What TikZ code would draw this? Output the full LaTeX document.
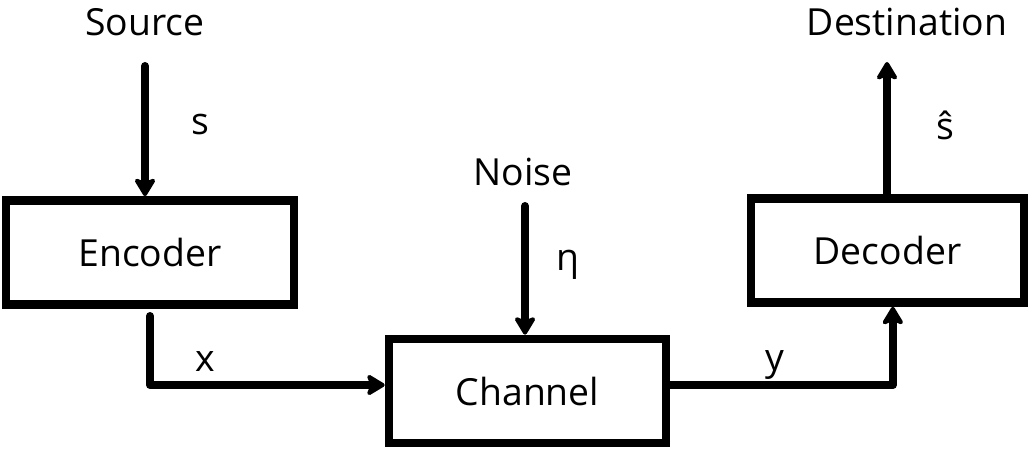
\documentclass[tikz,border=0pt]{standalone}
\usepackage{fontspec}
\setmainfont{Open Sans}
\usetikzlibrary{arrows.meta}

\tikzset{every picture/.style={line width=0.75pt}}
\tikzset{
  blockbox/.style={draw, line width=6.5pt, minimum width=#1, minimum height=78pt, inner sep=0pt, font=\fontsize{28}{32}\selectfont},
  flow/.style={line width=6pt, line cap=round, line join=round, -{Stealth[length=16pt,width=19pt,inset=4pt,round]}},
  lbl/.style={inner sep=0pt, font=\fontsize{28}{32}\selectfont}
}

\begin{document}
\begin{tikzpicture}[x=0.75pt,y=0.75pt,yscale=-1,xscale=1]
\useasboundingbox (0,0) rectangle (1030,453);

%Blocks
\node [blockbox=216pt] (enc) at (150,252.5) {Encoder};
\node [blockbox=207.75pt] (chan) at (527.5,391) {Channel};
\node [blockbox=204.75pt] (dec) at (887.5,250.5) {Decoder};

% Text Node
\node [lbl] (src) at (145,22) {Source};
% Text Node
\node [lbl] (dst) at (907,22) {Destination};
% Text Node
\node [lbl] (noise) at (523,172) {Noise};
% Text Node
\node [lbl] (ls) at (200,125) {s};
% Text Node
\node [lbl] (lx) at (205,362) {x};
% Text Node
\node [lbl] (leta) at (568,265) {η};
% Text Node
\node [lbl] (ly) at (775,365) {y};
% Text Node
\node [lbl] (lsh) at (945,125) {ŝ};

%Free ends
\coordinate (s0) at (145,66);
\coordinate (n0) at (525,206);
\coordinate (x0) at (150,316);
\coordinate (d0) at (887,62);

%Connectors
\draw [flow] (s0) -- (s0 |- enc.north);
\draw [flow] (n0) -- (n0 |- chan.north);
\draw [flow] (x0) |- ([yshift=-4.5pt]chan.west);
\draw [flow] ([yshift=-4.5pt]chan.east) -| ([xshift=4pt]dec.south);
\draw [flow] (dec.north -| d0) -- (d0);

\end{tikzpicture}
\end{document}
